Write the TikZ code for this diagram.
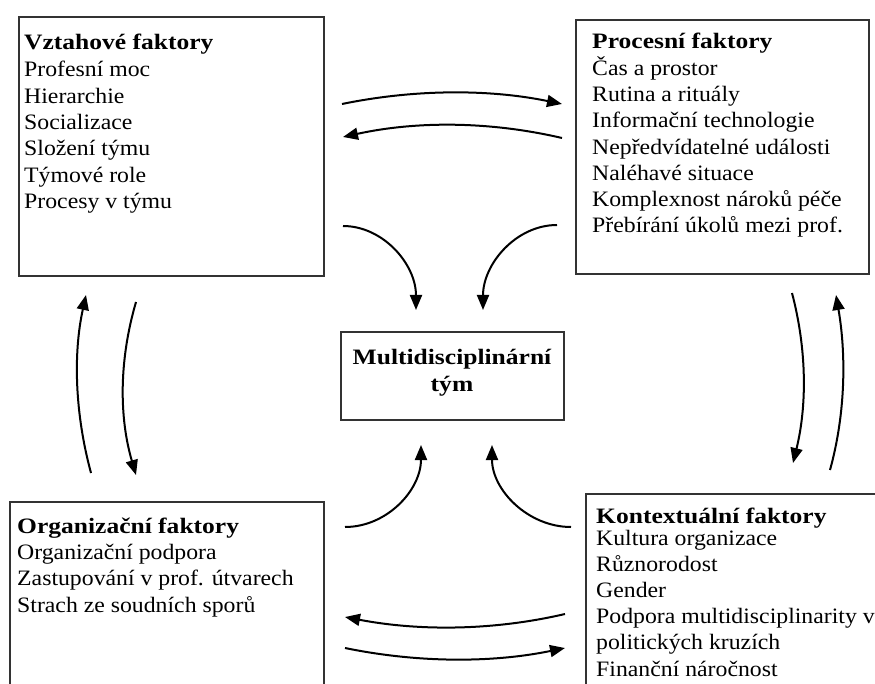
\documentclass[tikz,border=0pt]{standalone}
\usepackage{fontspec}
\setmainfont{Liberation Serif}[FakeStretch=1.08, BoldFeatures={FakeStretch=1.16}]
\usetikzlibrary{arrows.meta}
\tikzset{
  fbox/.style={draw=black!80, line width=1.6pt, inner sep=0pt, anchor=north west},
  ttl/.style={anchor=base west, inner sep=0pt, font=\fontsize{22}{26.3}\selectfont\bfseries},
  body/.style={anchor=base west, inner sep=0pt, align=left, font=\fontsize{22}{26.3}\selectfont},
  arr/.style={line width=2pt, -{Triangle[length=15pt,width=12pt]}}
}
\begin{document}
\begin{tikzpicture}[x=1pt,y=1pt]
\clip (0,0) rectangle (875,-684);
\fill[white] (0,0) rectangle (875,-684);
% boxes
\node[fbox, minimum width=305pt, minimum height=259pt] (vbox) at (18,-16) {};
\node[fbox, minimum width=293pt, minimum height=254pt] (pbox) at (575,-19) {};
\node[fbox, minimum width=314pt, minimum height=220pt] (obox) at (9,-501) {};
\node[fbox, minimum width=320pt, minimum height=191pt] (kbox) at (585,-493) {};
\node[fbox, minimum width=223pt, minimum height=88pt] (mbox) at (340,-331) {};
% texts (multi-line nodes: base = baseline of last line)
\node[ttl] (vt) at (24,-50) {Vztahové faktory};
\node[body] (vb) at (24,-208.5) {Profesní moc\\Hierarchie\\Socializace\\Složení týmu\\Týmové role\\Procesy v týmu};
\node[ttl] (pt) at (592,-49) {Procesní faktory};
\node[body] (pb) at (592,-233) {Čas a prostor\\Rutina a rituály\\Informační technologie\\Nepředvídatelné události\\Naléhavé situace\\Komplexnost nároků péče\\Přebírání úkolů mezi prof.};
\node[ttl] (ot) at (17,-533) {Organizační faktory};
\node[body] (ob) at (17,-612) {Organizační podpora\\Zastupování v prof. útvarech\\Strach ze soudních sporů};
\node[ttl] (kt) at (596,-523) {Kontextuální faktory};
\node[body, font=\fontsize{22}{26.2}\selectfont] (kb) at (596,-676) {Kultura organizace\\Různorodost\\Gender\\Podpora multidisciplinarity v\\politických kruzích\\Finanční náročnost};
\node[anchor=base, inner sep=0pt, align=center, font=\fontsize{22}{27}\selectfont\bfseries] (mt) at (452,-391) {Multidisciplinární\\tým};
% arrow end points
\coordinate (a1s) at (342,-104); \coordinate (a1e) at (562,-104);
\coordinate (a2s) at (562,-138); \coordinate (a2e) at (343,-137);
\coordinate (b1s) at (565,-614); \coordinate (b1e) at (345,-617);
\coordinate (b2s) at (345,-648); \coordinate (b2e) at (565,-648);
\coordinate (c1s) at (343,-226); \coordinate (c1e) at (416,-310);
\coordinate (c2s) at (557,-225); \coordinate (c2e) at (483,-310);
\coordinate (d1s) at (345,-527); \coordinate (d1e) at (421,-445);
\coordinate (d2s) at (571,-527); \coordinate (d2e) at (492,-445);
\coordinate (l1s) at (91,-473); \coordinate (l1e) at (86,-295);
\coordinate (l2s) at (136,-302); \coordinate (l2e) at (136,-475);
\coordinate (r1s) at (792,-293); \coordinate (r1e) at (793,-463);
\coordinate (r2s) at (830,-470); \coordinate (r2e) at (836,-295);
% arrows
\draw[arr] (a1s) .. controls (415,-89) and (489,-89) .. (a1e);
\draw[arr] (a2s) .. controls (489,-121) and (416,-121) .. (a2e);
\draw[arr] (b1s) .. controls (492,-631) and (418,-631) .. (b1e);
\draw[arr] (b2s) .. controls (418,-663) and (492,-663) .. (b2e);
\draw[arr] (c1s) .. controls (383,-226) and (416,-264) .. (c1e);
\draw[arr] (c2s) .. controls (516,-225) and (483,-264) .. (c2e);
\draw[arr] (d1s) .. controls (387,-527) and (421,-490) .. (d1e);
\draw[arr] (d2s) .. controls (528,-527) and (492,-490) .. (d2e);
\draw[arr] (l1s) .. controls (75,-414) and (73,-354) .. (l1e);
\draw[arr] (l2s) .. controls (119,-360) and (119,-417) .. (l2e);
\draw[arr] (r1s) .. controls (807,-350) and (807,-406) .. (r1e);
\draw[arr] (r2s) .. controls (846,-412) and (846,-353) .. (r2e);
\end{tikzpicture}
\end{document}
